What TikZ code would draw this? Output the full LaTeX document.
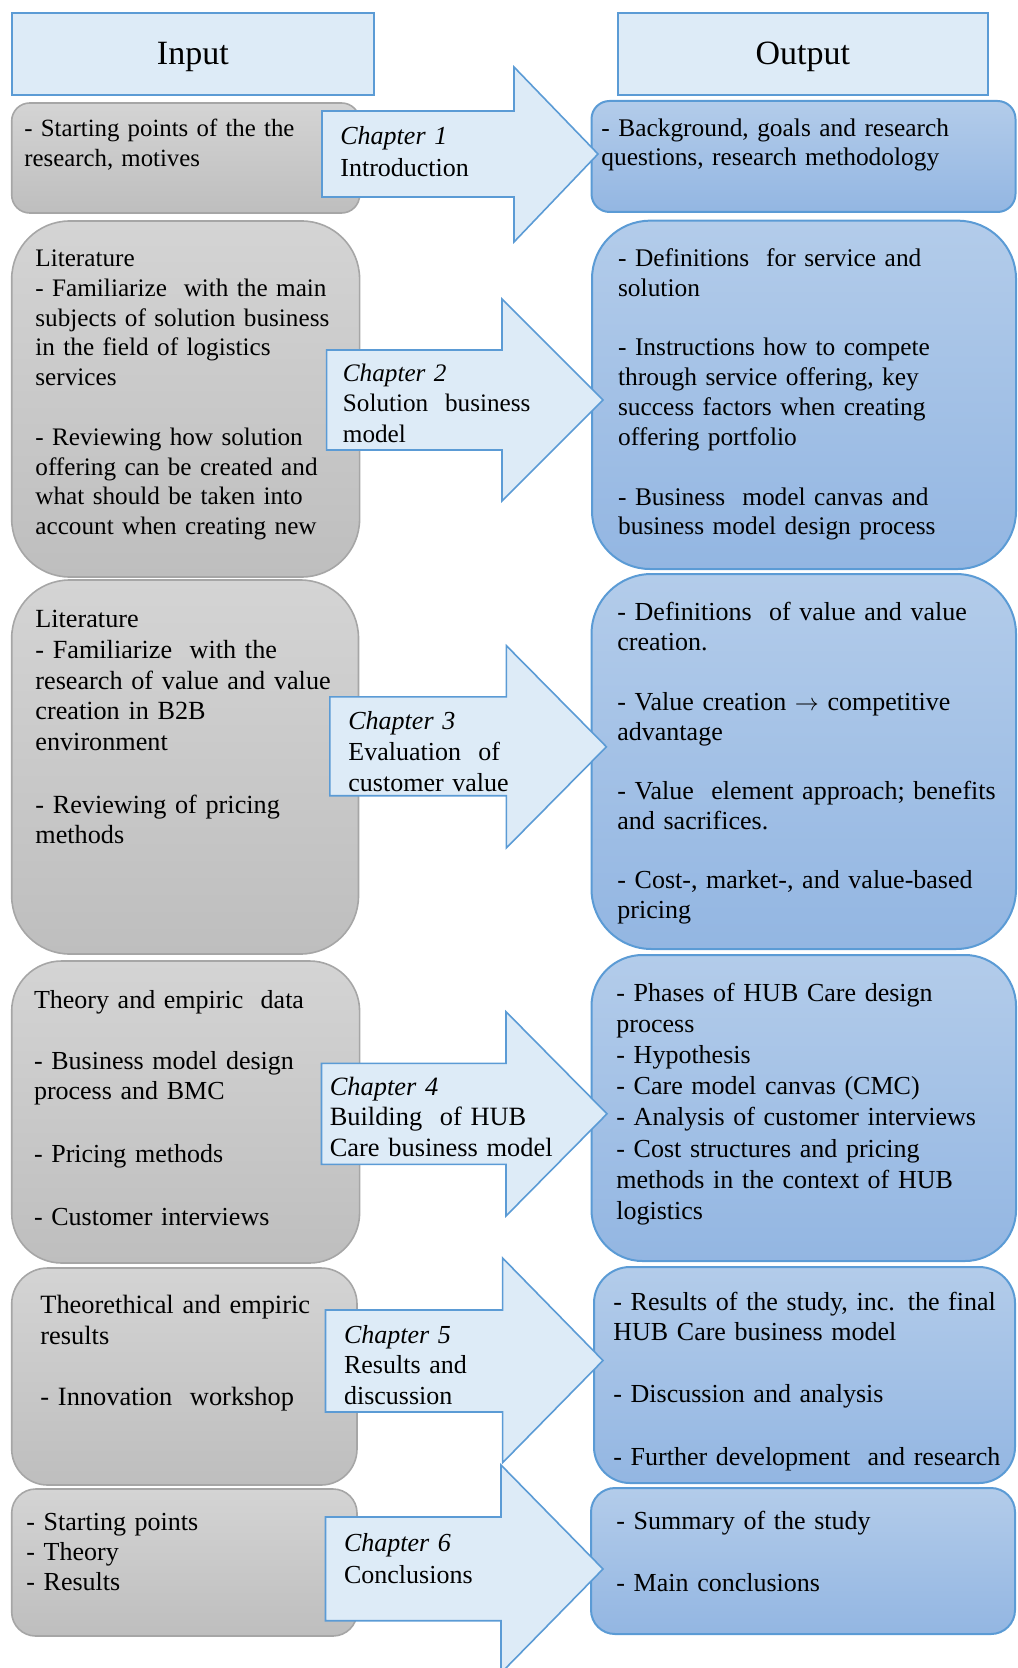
\documentclass[tikz,border=0pt]{standalone}
\usepackage{fontspec}
\setmainfont[WordSpace=0.88]{Liberation Serif}
\usetikzlibrary{fit}

\definecolor{edgeblue}{HTML}{5B9BD5}
\definecolor{paleblue}{HTML}{DDEBF7}
\definecolor{bluetop}{HTML}{B3CCEA}
\definecolor{bluebot}{HTML}{93B6E2}
\definecolor{graytop}{HTML}{D4D4D4}
\definecolor{graybot}{HTML}{BEBEBE}
\definecolor{grayedge}{HTML}{A6A6A6}

\tikzset{
  headbox/.style={fill=paleblue, draw=edgeblue, line width=1pt, inner sep=0pt},
  inbox/.style={top color=graytop, bottom color=graybot, draw=grayedge, line width=0.8pt, inner sep=0pt, rounded corners=#1},
  outbox/.style={top color=bluetop, bottom color=bluebot, draw=edgeblue, line width=1pt, inner sep=0pt, rounded corners=#1},
  chapterarrow/.style={fill=paleblue, draw=edgeblue, line width=0.8pt, line join=miter},
  txt/.style={anchor=base west, inner sep=0pt, align=left, text width=215pt,
    font=\fontsize{13}{#1}\selectfont},
  txt/.default=15pt,
  sz/.style 2 args={font=\fontsize{#1}{#2}\selectfont},
  headtxt/.style={font=\fontsize{17}{20}\selectfont, inner sep=0pt, yshift=-1.5pt}
}

\begin{document}
\begin{tikzpicture}[x=0.5pt,y=-0.5pt]
\useasboundingbox (0,0) rectangle (1017,1668);
\clip (0,0) rectangle (1017,1668);

% column headers
\node[headbox, fit={(11.7,12.8) (374,95)}] (inhead) {};
\node[headbox, fit={(618,12.8) (987.5,95)}] (outhead) {};
\node[headtxt] (inheadtxt) at (inhead.center) {Input};
\node[headtxt] (outheadtxt) at (outhead.center) {Output};

% input boxes
\node[inbox=9pt,  fit={(11.7,103) (359.6,213)}] (in1) {};
\node[inbox=29pt, fit={(11.7,221) (359.6,577)}] (in2) {};
\node[inbox=29pt, fit={(11.7,580) (358.5,954)}] (in3) {};
\node[inbox=25pt, fit={(11.7,961) (359.6,1263)}] (in4) {};
\node[inbox=18pt, fit={(11.7,1268) (357,1485)}] (in5) {};
\node[inbox=12pt, fit={(11.7,1489) (357,1636)}] (in6) {};

% output boxes
\node[outbox=9pt,    fit={(591.5,101) (1015.5,212)}] (out1) {};
\node[outbox=29pt,   fit={(592,220.7) (1016,569)}] (out2) {};
\node[outbox=30pt,   fit={(591.5,574) (1016,949)}] (out3) {};
\node[outbox=25.5pt, fit={(591.5,955) (1016,1261)}] (out4) {};
\node[outbox=18pt,   fit={(594,1267) (1015,1483)}] (out5) {};
\node[outbox=12pt,   fit={(591,1488) (1015,1634)}] (out6) {};

% chapter block arrows
\draw[chapterarrow] (322,111) -- (514,111) -- (514,67) -- (598,154) -- (514,242) -- (514,197) -- (322,197) -- cycle;
\draw[chapterarrow] (326.6,350) -- (502,350) -- (502,299) -- (603,400) -- (502,501) -- (502,450) -- (326.6,450) -- cycle;
\draw[chapterarrow] (329.8,696.8) -- (506.4,696.8) -- (506.4,645.7) -- (606.4,746.8) -- (506.4,847.9) -- (506.4,795.7) -- (329.8,795.7) -- cycle;
\draw[chapterarrow] (321.5,1063.3) -- (506,1063.3) -- (506,1011.7) -- (607,1113.8) -- (506,1216) -- (506,1164.3) -- (321.5,1164.3) -- cycle;
\draw[chapterarrow] (325.5,1310) -- (502.6,1310) -- (502.6,1258) -- (603,1360.5) -- (502.6,1462.7) -- (502.6,1412) -- (325.5,1412) -- cycle;
\draw[chapterarrow] (325.5,1517) -- (501,1517) -- (501,1465) -- (603,1569) -- (501,1673) -- (501,1620.7) -- (325.5,1620.7) -- cycle;

% input texts
\node[txt, sz={12.4}{15}] (in1a) at (24,137) {- Starting points of the the\\research, motives};
\node[txt, sz={12.6}{14.9}] (in2a) at (35,266.6) {Literature\\- Familiarize\ \ with the main\\subjects of solution business\\in the field of logistics\\services};
\node[txt, sz={12.6}{14.9}] (in2b) at (35,445.3) {- Reviewing how solution\\offering can be created and\\what should be taken into\\account when creating new};
\node[txt, sz={13.1}{15.45}] (in3a) at (35,627.2) {Literature\\- Familiarize\ \ with the\\research of value and value\\creation in B2B\\environment};
\node[txt, sz={13.1}{15.45}] (in3b) at (35,813) {- Reviewing of pricing\\methods};
\node[txt] (in4a) at (33.6,1008.3) {Theory and empiric\ \ data};
\node[txt=15pt] (in4b) at (33.6,1069.3) {- Business model design\\process and BMC};
\node[txt] (in4c) at (33.6,1162) {- Pricing methods};
\node[txt] (in4d) at (33.6,1225.5) {- Customer interviews};
\node[txt, sz={13.2}{15.5}] (in5a) at (40,1313) {Theorethical and empiric\\results};
\node[txt, sz={13.2}{15.5}] (in5b) at (40,1405.7) {- Innovation\ \ workshop};
\node[txt=15pt] (in6a) at (26,1530) {- Starting points\\- Theory\\- Results};

% chapter titles
\node[txt=15.75pt] (ch1) at (340,145) {\textit{Chapter 1}\\Introduction};
\node[txt, sz={12.6}{15.25}] (ch2) at (342.5,381.5) {\textit{Chapter 2}\\Solution\ \ business\\model};
\node[txt=15.5pt] (ch3) at (348,729) {\textit{Chapter 3}\\Evaluation\ \ of\\customer value};
\node[txt, sz={13.2}{15.25}] (ch4) at (329.4,1095) {\textit{Chapter 4}\\Building\ \ of HUB\\Care business model};
\node[txt=15.25pt] (ch5) at (343.7,1343) {\textit{Chapter 5}\\Results and\\discussion};
\node[txt=15.65pt] (ch6) at (343.7,1551.7) {\textit{Chapter 6}\\Conclusions};

% output texts
\node[txt, sz={12.7}{14.5}] (out1a) at (601,136.7) {- Background, goals and research\\questions, research methodology};
\node[txt, sz={12.7}{15}] (out2a) at (617.7,266.7) {- Definitions\ \ for service and\\solution};
\node[txt, sz={12.7}{15}] (out2b) at (617.7,356) {- Instructions how to compete\\through service offering, key\\success factors when creating\\offering portfolio};
\node[txt, sz={12.7}{14.5}] (out2c) at (617.7,505) {- Business\ \ model canvas and\\business model design process};
\node[txt=14.9pt] (out3a) at (617,620.8) {- Definitions\ \ of value and value\\creation.};
\node[txt=14.9pt] (out3b) at (617,710.2) {- Value creation $\rightarrow$ competitive\\advantage};
\node[txt=14.9pt] (out3c) at (617,799.5) {- Value\ \ element approach; benefits\\and sacrifices.};
\node[txt=14.9pt] (out3d) at (617,888.9) {- Cost-, market-, and value-based\\pricing};
\node[txt=15.53pt] (out4a) at (616,1001.7) {- Phases of HUB Care design\\process\\- Hypothesis\\- Care model canvas (CMC)\\- Analysis of customer interviews\\- Cost structures and pricing\\methods in the context of HUB\\logistics};
\node[txt=15pt] (out5a) at (613,1310.7) {- Results of the study, inc. the final\\HUB Care business model};
\node[txt] (out5b) at (613,1402) {- Discussion and analysis};
\node[txt] (out5c) at (613,1465) {- Further development\ \ and research};
\node[txt] (out6a) at (616,1529) {- Summary of the study};
\node[txt] (out6b) at (616,1591.7) {- Main conclusions};
\end{tikzpicture}
\end{document}
